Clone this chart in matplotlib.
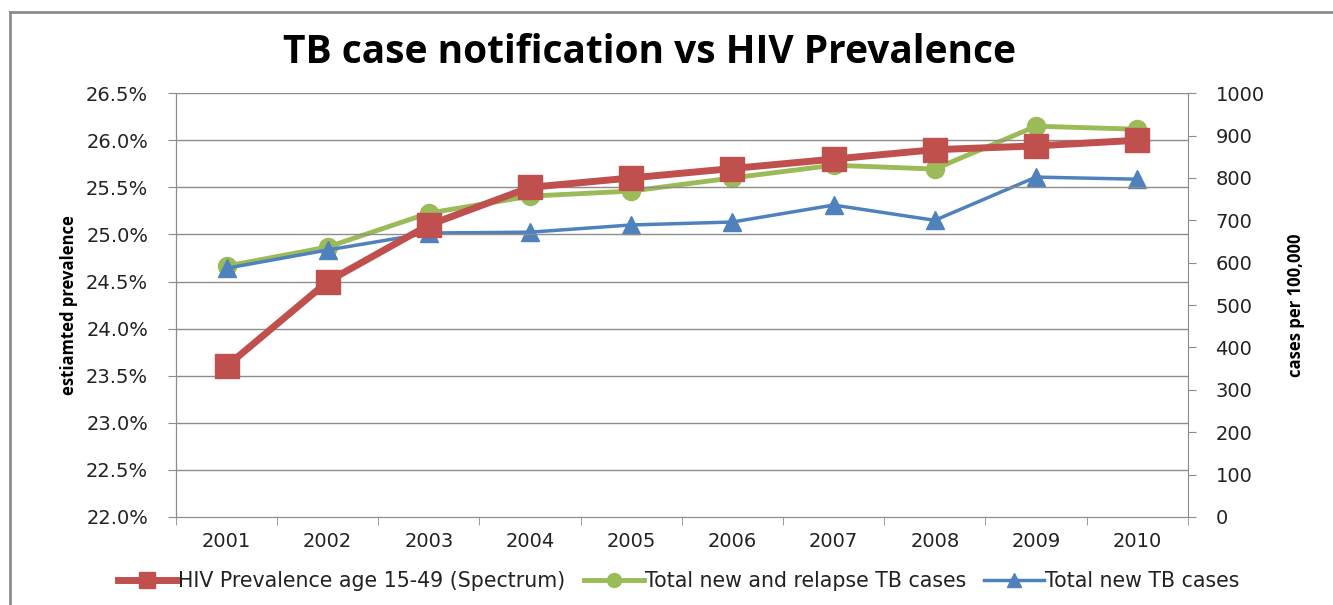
import matplotlib
matplotlib.use('Agg')
import matplotlib.pyplot as plt
from matplotlib.lines import Line2D
from matplotlib.ticker import FuncFormatter, MultipleLocator, FixedLocator
import numpy as np

plt.rcParams['font.family'] = ['DejaVu Sans']

years = ['2001', '2002', '2003', '2004', '2005', '2006', '2007', '2008', '2009', '2010']
hiv_prev = [23.6, 24.5, 25.1, 25.5, 25.6, 25.7, 25.8, 25.9, 25.94, 26.0]
new_relapse = [592, 637, 717, 757, 769, 800, 830, 821, 922, 915]
new_cases = [587, 630, 670, 672, 689, 696, 736, 700, 802, 797]

red = '#c0504d'
green = '#9bbb59'
blue = '#4f81bd'
grid_c = '#8c8c8c'
txt_c = '#222222'

fig = plt.figure(figsize=(13.33, 6.05), dpi=100)
ax = fig.add_axes([0.132, 0.1455, 0.759, 0.7005])
ax2 = ax.twinx()

x = np.arange(len(years))

ax.plot(x, hiv_prev, color=red, lw=5, marker='s', ms=17, zorder=3)
ax2.plot(x, new_relapse, color=green, lw=3.5, marker='o', ms=13)
ax2.plot(x, new_cases, color=blue, lw=2.5, marker='^', ms=13)

ax.set_zorder(2)
ax.patch.set_visible(False)
ax2.set_zorder(1)

ax.set_xlim(-0.5, 9.5)
ax.set_ylim(22.0, 26.5)
ax2.set_ylim(0, 1000)
ax.yaxis.set_major_locator(MultipleLocator(0.5))
ax.yaxis.set_major_formatter(FuncFormatter(lambda v, p: f'{v:.1f}%'))
ax2.yaxis.set_major_locator(MultipleLocator(100))

ax.set_xticks(x)
ax.set_xticklabels(years)
ax.xaxis.set_minor_locator(FixedLocator(np.arange(-0.5, 10, 1)))
ax.tick_params(axis='x', which='major', length=0, pad=11, labelsize=14, labelcolor=txt_c)
ax.tick_params(axis='x', which='minor', length=6, color=grid_c)
ax.tick_params(axis='y', length=6, color=grid_c, labelsize=14, pad=14, labelcolor=txt_c)
ax2.tick_params(axis='y', length=6, color=grid_c, labelsize=14, pad=14, labelcolor=txt_c)

ax2.grid(False)
for yv in np.arange(22.5, 26.51, 0.5):
    ax.axhline(yv, color=grid_c, lw=1, zorder=0)

for a in (ax, ax2):
    a.spines['top'].set_visible(False)
    for s in ('left', 'right', 'bottom'):
        a.spines[s].set_color(grid_c)
ax.spines['right'].set_visible(False)

ax.set_ylabel('estiamted prevalence', fontsize=12, fontweight='bold', labelpad=6,
              family=['Open Sans', 'DejaVu Sans'])
ax2.set_ylabel('cases per 100,000', fontsize=12, fontweight='bold', labelpad=16,
               family=['Open Sans', 'DejaVu Sans'])

fig.text(0.487, 0.914, 'TB case notification vs HIV Prevalence', ha='center', va='center',
         fontsize=28, fontweight='bold', family=['Open Sans', 'DejaVu Sans'])

handles = [
    Line2D([], [], color=red, lw=5, marker='s', ms=12),
    Line2D([], [], color=green, lw=3.5, marker='o', ms=10),
    Line2D([], [], color=blue, lw=2.5, marker='^', ms=10),
]
labels = ['HIV Prevalence age 15-49 (Spectrum)', 'Total new and relapse TB cases', 'Total new TB cases']
fig.legend(handles, labels, loc='center', bbox_to_anchor=(0.509, 0.04), ncol=3, frameon=False,
           fontsize=14.8, handlelength=2.9, handletextpad=0.05, columnspacing=0.9, labelcolor=txt_c)

# outer chart frame
fig.add_artist(Line2D([0.0075, 0.0075], [0.0, 0.98], transform=fig.transFigure, color='#8c8c8c', lw=2))
fig.add_artist(Line2D([0.0075, 1.0], [0.98, 0.98], transform=fig.transFigure, color='#8c8c8c', lw=2))

fig.savefig('out.png', dpi=100)
